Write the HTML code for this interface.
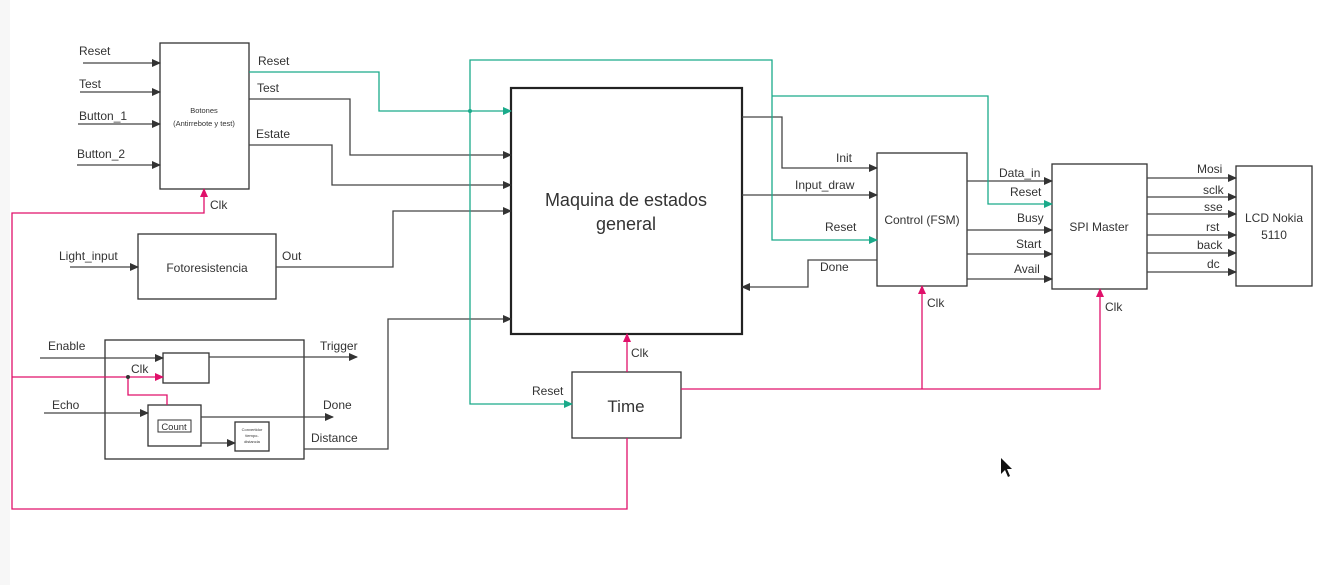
<!DOCTYPE html>
<html><head><meta charset="utf-8"><style>
html,body{margin:0;padding:0;background:#fff;}
svg{display:block;font-family:"Liberation Sans",sans-serif;}
</style></head><body>
<svg width="1319" height="585" viewBox="0 0 1319 585" xmlns="http://www.w3.org/2000/svg">
<defs>
<marker id="ak" markerWidth="10" markerHeight="10" refX="8" refY="5" orient="auto" markerUnits="userSpaceOnUse"><path d="M0,1 L9,5 L0,9 Z" fill="#333"/></marker>
<marker id="ag" markerWidth="10" markerHeight="10" refX="8" refY="5" orient="auto" markerUnits="userSpaceOnUse"><path d="M0,1 L9,5 L0,9 Z" fill="#1aaa8a"/></marker>
<marker id="ap" markerWidth="10" markerHeight="10" refX="8" refY="5" orient="auto" markerUnits="userSpaceOnUse"><path d="M0,1 L9,5 L0,9 Z" fill="#e0106a"/></marker>
</defs>
<rect x="0" y="0" width="10" height="585" fill="#f7f7f7"/>
<g fill="none" stroke-width="1.3">
<!-- boxes -->
<g stroke="#333">
<rect x="160" y="43" width="89" height="146"/>
<rect x="138" y="234" width="138" height="65"/>
<rect x="105" y="340" width="199" height="119"/>
<rect x="163" y="353" width="46" height="30"/>
<rect x="148" y="405" width="53" height="41"/>
<rect x="158" y="420" width="33" height="12" stroke-width="1"/>
<rect x="235" y="422" width="34" height="29"/>
<rect x="572" y="372" width="109" height="66"/>
<rect x="877" y="153" width="90" height="133"/>
<rect x="1052" y="164" width="95" height="125"/>
<rect x="1236" y="166" width="76" height="120"/>
</g>
<rect x="511" y="88" width="231" height="246" stroke="#222" stroke-width="2.2"/>
<!-- black lines -->
<g stroke="#444" marker-end="url(#ak)">
<path d="M83,63 H160"/><path d="M80,92 H160"/><path d="M78,124 H160"/><path d="M77,165 H160"/>
<path d="M70,267 H138"/>
<path d="M249,99 H350 V155 H511"/>
<path d="M249,145 H332 V185 H511"/>
<path d="M276,267 H393 V211 H511"/>
<path d="M304,449 H388 V319 H511"/>
<path d="M742,117 H782 V168 H877"/>
<path d="M742,195 H877"/>
<path d="M877,260 H808 V287 H742"/>
<path d="M967,181 H1052"/><path d="M967,230 H1052"/><path d="M967,254 H1052"/><path d="M967,279 H1052"/>
<path d="M1147,178 H1236"/><path d="M1147,197 H1236"/><path d="M1147,214 H1236"/><path d="M1147,235 H1236"/><path d="M1147,253 H1236"/><path d="M1147,272 H1236"/>
<path d="M40,358 H163"/><path d="M209,357 H357"/><path d="M44,413 H148"/><path d="M201,417 H333"/><path d="M201,443 H235"/>
</g>
<!-- green -->
<g stroke="#1aaa8a" marker-end="url(#ag)">
<path d="M249,72 H379 V111 H511"/>
<path d="M470,111 V60 H772 V240 H877"/>
<path d="M772,96 H988 V204 H1052"/>
<path d="M470,111 V404 H572"/>
</g>
<circle cx="470" cy="111" r="2" fill="#1aaa8a"/>
<!-- pink -->
<g stroke="#e0106a" marker-end="url(#ap)">
<path d="M627,438 V509 H12 V213 H204 V189"/>
<path d="M12,377 H163"/>
<path d="M627,372 V334"/>
<path d="M681,389 H1100 V289"/>
<path d="M922,389 V286"/>
</g>
<path d="M128,377 V395 H167 V405" stroke="#e0106a"/>
<circle cx="128" cy="377" r="2" fill="#333"/>
</g>
<g fill="#333" font-size="12">
<text x="79" y="55">Reset</text><text x="79" y="88">Test</text><text x="79" y="120">Button_1</text><text x="77" y="158">Button_2</text>
<text x="204" y="113" font-size="7.5" text-anchor="middle">Botones</text>
<text x="204" y="126" font-size="7.5" text-anchor="middle">(Antirrebote y test)</text>
<text x="258" y="65">Reset</text><text x="257" y="92">Test</text><text x="256" y="138">Estate</text>
<text x="210" y="209">Clk</text>
<text x="59" y="260">Light_input</text>
<text x="207" y="272" text-anchor="middle">Fotoresistencia</text>
<text x="282" y="260">Out</text>
<text x="48" y="350">Enable</text><text x="320" y="350">Trigger</text>
<text x="131" y="373">Clk</text>
<text x="52" y="409">Echo</text><text x="323" y="409">Done</text><text x="311" y="442">Distance</text>
<text x="174" y="430" font-size="9.5" text-anchor="middle">Count</text>
<text x="252" y="431" font-size="4" text-anchor="middle">Convertidor</text>
<text x="252" y="437" font-size="4" text-anchor="middle">tiempo-</text>
<text x="252" y="443" font-size="4" text-anchor="middle">distancia</text>
<text x="626" y="206" font-size="18" text-anchor="middle">Maquina de estados</text>
<text x="626" y="230" font-size="18" text-anchor="middle">general</text>
<text x="631" y="357">Clk</text>
<text x="532" y="395">Reset</text>
<text x="626" y="412" font-size="17" text-anchor="middle">Time</text>
<text x="836" y="162">Init</text><text x="795" y="189">Input_draw</text><text x="825" y="231">Reset</text><text x="820" y="271">Done</text>
<text x="922" y="224" text-anchor="middle">Control (FSM)</text>
<text x="927" y="307">Clk</text>
<text x="999" y="177">Data_in</text><text x="1010" y="196">Reset</text><text x="1017" y="222">Busy</text><text x="1016" y="248">Start</text><text x="1014" y="273">Avail</text>
<text x="1099" y="231" text-anchor="middle">SPI Master</text>
<text x="1105" y="311">Clk</text>
<text x="1197" y="173">Mosi</text><text x="1203" y="194">sclk</text><text x="1204" y="211">sse</text><text x="1206" y="231">rst</text><text x="1197" y="249">back</text><text x="1207" y="268">dc</text>
<text x="1274" y="222" text-anchor="middle">LCD Nokia</text>
<text x="1274" y="239" text-anchor="middle">5110</text>
</g>
<path d="M1001,458 L1001,474 L1005,470 L1008,477 L1010,476 L1007,469 L1012,469 Z" fill="#111"/>
</svg>
</body></html>
